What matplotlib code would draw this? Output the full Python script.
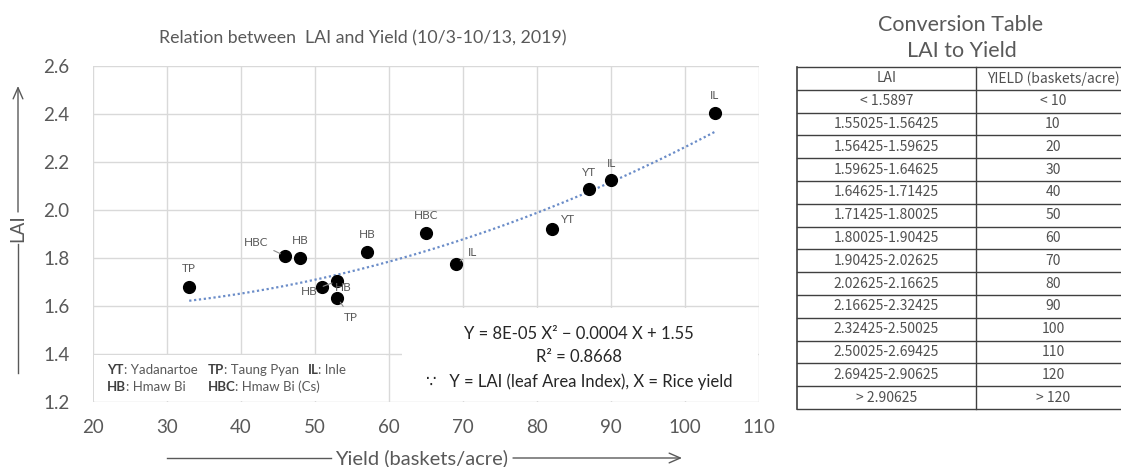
import numpy as np
import matplotlib
matplotlib.use("Agg")
from matplotlib import pyplot as plt
from matplotlib.patches import Rectangle

plt.rcParams["font.family"] = ["Lato", "DejaVu Sans"]

# ---- data ----
yield_vals = [33, 46, 48, 57, 51, 53, 53, 65, 69, 82, 87, 90, 104]
lai_vals = [1.68, 1.808, 1.799, 1.824, 1.68, 1.704, 1.635, 1.905, 1.775, 1.921, 2.086, 2.125, 2.403]
site_labels = ["TP", "HBC", "HB", "HB", "HB", "HB", "TP", "HBC", "IL", "YT", "YT", "IL", "IL"]

# trendline as drawn (coefficients estimated from the dotted curve, x from 33 to 104)
trend_coef = [8.8e-05, -0.00215, 1.597]
trend_range = [33, 104]

table_lai = ["< 1.5897", "1.55025-1.56425", "1.56425-1.59625", "1.59625-1.64625",
             "1.64625-1.71425", "1.71425-1.80025", "1.80025-1.90425", "1.90425-2.02625",
             "2.02625-2.16625", "2.16625-2.32425", "2.32425-2.50025", "2.50025-2.69425",
             "2.69425-2.90625", "> 2.90625"]
table_yield = ["< 10", "10", "20", "30", "40", "50", "60", "70", "80", "90",
               "100", "110", "120", "> 120"]

x_ticks = [20, 30, 40, 50, 60, 70, 80, 90, 100, 110]
y_ticks = [1.2, 1.4, 1.6, 1.8, 2.0, 2.2, 2.4, 2.6]

# label offsets (points) and whether a leader line is drawn
label_offsets = [(0, 13), (-21, 10), (0, 12.5), (0, 12.5), (15, -0.5), (-20, -7.5), (9.5, -14),
                 (0, 12.5), (12, 8), (12, 7), (0, 12), (0, 12), (0, 12.5)]
leader = [False, True, False, False, False, True, True, False, True, False, False, False, False]

W, H = 1121, 467
GRAY = "#595959"
GRID = "#d9d9d9"

fig = plt.figure(figsize=(W / 100, H / 100), dpi=100)
ax = fig.add_axes([93 / W, 1 - 402 / H, (759 - 93) / W, (402 - 66) / H])

ax.set_xlim(20, 110)
ax.set_ylim(1.2, 2.6)
ax.set_xticks(x_ticks)
ax.set_yticks(y_ticks)
ax.set_yticklabels([f"{v:.1f}" for v in y_ticks])
ax.tick_params(length=0, labelsize=13.5, colors=GRAY)
ax.tick_params(axis="y", pad=17)
ax.tick_params(axis="x", pad=12)
for s in ax.spines.values():
    s.set_visible(False)
ax.grid(True, color=GRID, lw=1)
ax.set_axisbelow(True)

xs = np.linspace(trend_range[0], trend_range[1], 200)
ax.plot(xs, np.polyval(trend_coef, xs), ls=(0, (1, 1.2)), color="#6a8cc8", lw=1.6, zorder=3)

ax.scatter(yield_vals, lai_vals, s=72, color="black", zorder=4)

for xv, yv, lab, off, ld in zip(yield_vals, lai_vals, site_labels, label_offsets, leader):
    ax.annotate(lab, (xv, yv), xytext=off, textcoords="offset points",
                ha="center", va="center", fontsize=8.5, color=GRAY, zorder=5,
                arrowprops=dict(arrowstyle="-", color="#8c8c8c", lw=0.8,
                                shrinkA=2, shrinkB=4) if ld else None)

# legend box (bottom left) and equation box (bottom right)
ax.add_patch(Rectangle((20.1, 1.203), 39.5, 0.194, facecolor="white", edgecolor="none", zorder=2))
ax.add_patch(Rectangle((61.8, 1.203), 48.1, 0.39, facecolor="white", edgecolor="none", zorder=2))

legend_rows = [[("YT", ": Yadanartoe"), ("TP", ": Taung Pyan"), ("IL", ": Inle")],
               [("HB", ": Hmaw Bi"), ("HBC", ": Hmaw Bi (Cs)")]]
col_x = [21.9, 35.5, 49.0]
row_y = [1.334, 1.263]
for r, row in enumerate(legend_rows):
    for c, (abbr, name) in enumerate(row):
        t = ax.text(col_x[c], row_y[r], abbr, fontsize=9.5, weight="bold",
                    color="#404040", va="center", zorder=6)
        ax.annotate(name, xy=(1, 0.5), xycoords=t, va="center", ha="left",
                    fontsize=9.5, color=GRAY, zorder=6)

ax.text(85.7, 1.483, "Y = 8E-05 X² − 0.0004 X + 1.55", ha="center", va="center",
        fontsize=12, color="#262626", zorder=6)
ax.text(85.7, 1.388, "R² = 0.8668", ha="center", va="center", fontsize=12,
        color="#262626", zorder=6)
ax.text(85.7, 1.283, "∵   Y = LAI (leaf Area Index), X = Rice yield", ha="center",
        va="center", fontsize=12, color="#262626", zorder=6)

# titles and axis labels with arrows
fig.text(363 / W, 1 - 38 / H, "Relation between  LAI and Yield (10/3-10/13, 2019)",
         ha="center", va="center", fontsize=12.8, color=GRAY)

fig.text(422 / W, 1 - 458 / H, "Yield (baskets/acre)", ha="center", va="center",
         fontsize=14.5, color=GRAY)
fig.add_artist(plt.Line2D([167 / W, 331 / W], [1 - 458 / H] * 2, color=GRAY, lw=1))
ax.annotate("", xy=(682 / W, 1 - 458 / H), xytext=(513 / W, 1 - 458 / H),
            xycoords="figure fraction", textcoords="figure fraction",
            arrowprops=dict(arrowstyle="->,head_length=0.8,head_width=0.35",
                            color=GRAY, lw=1, shrinkA=0, shrinkB=0))

fig.text(18 / W, 1 - 228 / H, "LAI", rotation=90, ha="center", va="center",
         fontsize=13.5, color=GRAY)
fig.add_artist(plt.Line2D([18 / W] * 2, [1 - 373 / H, 1 - 244 / H], color=GRAY, lw=1))
ax.annotate("", xy=(18 / W, 1 - 86 / H), xytext=(18 / W, 1 - 212 / H),
            xycoords="figure fraction", textcoords="figure fraction",
            arrowprops=dict(arrowstyle="->,head_length=0.8,head_width=0.35",
                            color=GRAY, lw=1, shrinkA=0, shrinkB=0))

# conversion table on the right
tx0, tx1, txd = 797, 1130, 976
ty0, ty1 = 67, 409
tax = fig.add_axes([tx0 / W, 1 - ty1 / H, (tx1 - tx0) / W, (ty1 - ty0) / H])
tax.set_xlim(tx0, tx1)
tax.set_ylim(ty1, ty0)
tax.axis("off")

n_rows = len(table_lai) + 1
row_h = (ty1 - ty0) / n_rows
line_c = "#404040"
for i in range(n_rows + 1):
    yy = ty0 + i * row_h
    tax.plot([tx0, tx1], [yy, yy], color=line_c, lw=1, clip_on=False)
tax.plot([tx0, tx0], [ty0, ty1], color=line_c, lw=1.2, clip_on=False)
tax.plot([txd, txd], [ty0, ty1], color=line_c, lw=1, clip_on=False)

tfont = ["Noto Sans CJK JP", "DejaVu Sans"]
header = ["LAI", "YIELD (baskets/acre)"]
for j, txt in enumerate(header):
    cx = (tx0 + txd) / 2 if j == 0 else 1053
    tax.text(cx, ty0 + row_h / 2, txt, ha="center", va="center", fontsize=10,
             color="#505050", family=tfont)
for i, (a, b) in enumerate(zip(table_lai, table_yield)):
    yy = ty0 + (i + 1.5) * row_h
    tax.text((tx0 + txd) / 2, yy, a, ha="center", va="center", fontsize=10,
             color="#505050", family=tfont)
    tax.text(1053, yy, b, ha="center", va="center", fontsize=10,
             color="#505050", family=tfont)

fig.text(961 / W, 1 - 25 / H, "Conversion Table", ha="center", va="center",
         fontsize=15.5, color=GRAY)
fig.text(962 / W, 1 - 51 / H, "LAI to Yield", ha="center", va="center",
         fontsize=15.5, color=GRAY)

fig.savefig("out.png", dpi=100)
